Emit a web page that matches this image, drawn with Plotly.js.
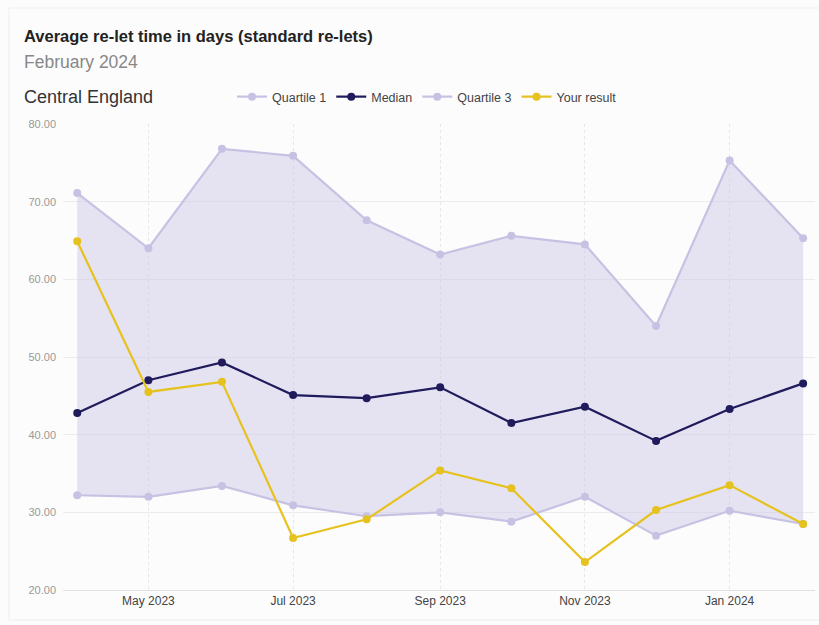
<!DOCTYPE html>
<html>
<head>
<meta charset="utf-8">
<script src="https://cdn.plot.ly/plotly-3.0.1.min.js"></script>
<style>
html,body{margin:0;padding:0;background:#ffffff;}
#chart{width:819px;height:625px;}
</style>
</head>
<body>
<div id="chart"></div>
<script>
const months = ["2023-04-01","2023-05-01","2023-06-01","2023-07-01","2023-08-01","2023-09-01","2023-10-01","2023-11-01","2023-12-01","2024-01-01","2024-02-01"];
const quartile1 = [32.2, 32.0, 33.4, 30.9, 29.5, 30.0, 28.8, 32.0, 27.0, 30.2, 28.5];
const median = [42.8, 47.0, 49.3, 45.1, 44.7, 46.1, 41.5, 43.6, 39.2, 43.3, 46.6];
const quartile3 = [71.1, 64.0, 76.8, 75.9, 67.6, 63.2, 65.6, 64.5, 54.0, 75.3, 65.3];
const yourResult = [64.9, 45.5, 46.8, 26.7, 29.1, 35.4, 33.1, 23.6, 30.3, 33.5, 28.5];
const yTicks = [20, 30, 40, 50, 60, 70, 80];

const quartColor = "#c6c2e3";
const medianColor = "#1f1b5c";
const resultColor = "#e6c21f";

const traces = [
  {x: months, y: quartile1, type: "scatter", mode: "lines", line: {width: 0, color: quartColor},
   showlegend: false, hoverinfo: "skip"},
  {x: months, y: quartile3, type: "scatter", mode: "lines", line: {width: 0, color: quartColor},
   fill: "tonexty", fillcolor: "rgba(205,202,230,0.5)", showlegend: false, hoverinfo: "skip"},
  {x: months, y: quartile1, name: "Quartile 1", type: "scatter", mode: "lines+markers",
   line: {color: quartColor, width: 2.2}, marker: {color: quartColor, size: 8}},
  {x: months, y: median, name: "Median", type: "scatter", mode: "lines+markers",
   line: {color: medianColor, width: 2.2}, marker: {color: medianColor, size: 8}},
  {x: months, y: quartile3, name: "Quartile 3", type: "scatter", mode: "lines+markers",
   line: {color: quartColor, width: 2.2}, marker: {color: quartColor, size: 8}},
  {x: months, y: yourResult, name: "Your result", type: "scatter", mode: "lines+markers",
   line: {color: resultColor, width: 2.2}, marker: {color: resultColor, size: 8}}
];

const font = "Liberation Sans, Arial, sans-serif";

const layout = {
  width: 819, height: 625,
  paper_bgcolor: "#fcfcfc", plot_bgcolor: "#fcfcfc",
  margin: {l: 63, r: 4, t: 124, b: 35},
  font: {family: font, color: "#333"},
  title: {text: "<b>Average re-let time in days (standard re-lets)</b>", x: 24/819, xanchor: "left",
          xref: "container", yref: "container", y: 1 - 36/625, yanchor: "middle",
          font: {family: font, size: 16.5, color: "#222"}},
  annotations: [
    {text: "February 2024", xref: "paper", yref: "paper", x: -41/752, y: (625-35-62)/466, xanchor: "left", yanchor: "middle",
     showarrow: false, font: {family: font, size: 17.5, color: "#888"}},
    {text: "Central England", xref: "paper", yref: "paper", x: -41/752, y: (625-35-97)/466, xanchor: "left", yanchor: "middle",
     showarrow: false, font: {family: font, size: 18, color: "#333"}}
  ],
  showlegend: true,
  legend: {orientation: "h", traceorder: "normal", x: 232/819, xref: "container", xanchor: "left", y: 1 - 97/625, yref: "container", yanchor: "middle",
           font: {family: font, size: 12.5, color: "#444"}, itemwidth: 30, bgcolor: "rgba(0,0,0,0)"},
  xaxis: {type: "date", range: ["2023-03-26", "2024-02-06"], tick0: "2023-05-01", dtick: "M2",
          tickformat: "%b %Y", showgrid: true, gridcolor: "#e6e6e6", griddash: "dot", gridwidth: 1,
          showline: true, linecolor: "#e0e0e0", zeroline: false, ticks: "",
          tickfont: {family: font, size: 12, color: "#444"}},
  yaxis: {range: [20, 80], tickvals: yTicks, ticktext: yTicks.map(v => v.toFixed(2)),
          showgrid: true, gridcolor: "#ececec", zeroline: false, showline: false, ticks: "",
          ticklabelstandoff: 6,
          tickfont: {family: font, size: 11, color: "#999"}},
  shapes: [
    {type: "rect", xref: "paper", yref: "paper", x0: -54/752, x1: 1.01, y0: -30/466, y1: (625-35-8)/466,
     line: {color: "#eeeeee", width: 1}, fillcolor: "rgba(0,0,0,0)", layer: "below"}
  ]
};

Plotly.newPlot("chart", traces, layout, {displayModeBar: false});
</script>
</body>
</html>
